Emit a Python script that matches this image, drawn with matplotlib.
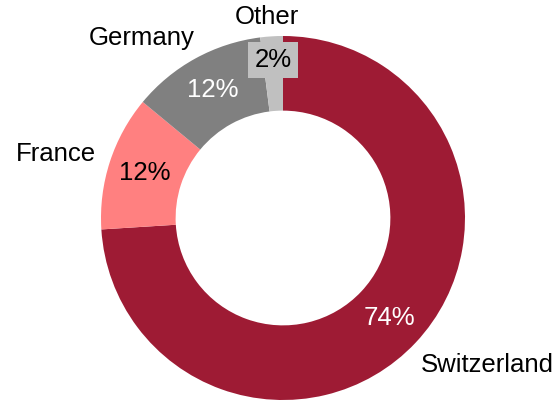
import numpy as np
import matplotlib
matplotlib.use("Agg")
from matplotlib import pyplot as plt

plt.rcParams['font.family'] = ['Liberation Sans', 'DejaVu Sans']

countries = ['Switzerland', 'France', 'Germany', 'Other']
shares = [74, 12, 12, 2]
colors = ['#9E1B34', '#FF8080', '#808080', '#C0C0C0']
pct_colors = ['white', 'black', 'white', 'black']

# radial distance of each percentage label, and where the country names sit
pct_dist = [0.80, 0.80, 0.80, 0.87]
name_pos = [(1.12, -0.81), (-1.25, 0.35), (-0.775, 0.99), (-0.09, 1.105)]

fig = plt.figure(figsize=(5.57, 4.0), dpi=100)
ax = fig.add_axes([0, 0, 1, 1])

wedges, _ = ax.pie(shares, colors=colors, startangle=90, counterclock=False,
                   radius=1.0, wedgeprops=dict(width=0.41, linewidth=0))

for w, share, tc, d, pos, name in zip(wedges, shares, pct_colors, pct_dist, name_pos, countries):
    mid = np.deg2rad((w.theta1 + w.theta2) / 2)
    kw = {}
    if name == 'Other':
        kw['bbox'] = dict(boxstyle='square,pad=0.25', fc=w.get_facecolor(), ec='none')
    ax.text(d * np.cos(mid), d * np.sin(mid), f'{share}%', color=tc, fontsize=18.5,
            ha='center', va='center', **kw)
    ax.text(pos[0], pos[1], name, fontsize=18.5, ha='center', va='center')

scale = 182
ax.set_xlim(-283 / scale, (557 - 283) / scale)
ax.set_ylim(-(400 - 218) / scale, 218 / scale)
ax.set_aspect('equal')
ax.axis('off')

fig.savefig('out.png', dpi=100)
